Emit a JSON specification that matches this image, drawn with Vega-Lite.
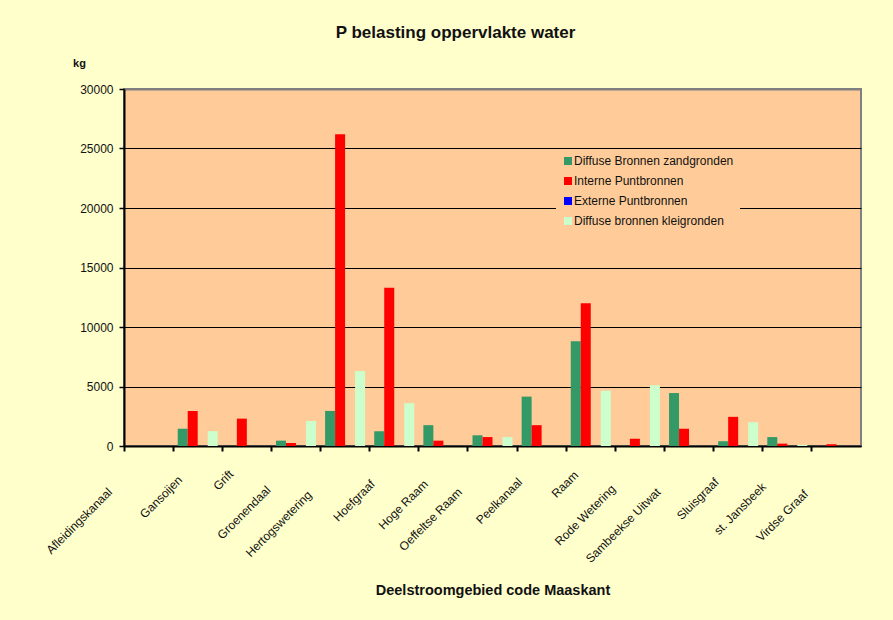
{
  "$schema": "https://vega.github.io/schema/vega-lite/v6.json",
  "width": 737,
  "height": 357,
  "autosize": {"type": "none"},
  "padding": {"left": 124, "top": 89, "right": 32, "bottom": 174},
  "background": "#FFFFCC",
  "title": {"text": "P belasting oppervlakte water", "font": "Liberation Sans", "fontSize": 17, "fontWeight": "bold", "color": "#111111", "anchor": "middle", "dx": -37, "offset": 15},
  "data": {"values": [
    {"gebied": "Gansoijen", "bron": "Diffuse Bronnen zandgronden", "kg": 1450},
    {"gebied": "Gansoijen", "bron": "Interne Puntbronnen", "kg": 2950},
    {"gebied": "Gansoijen", "bron": "Diffuse bronnen kleigronden", "kg": 1250},
    {"gebied": "Grift", "bron": "Interne Puntbronnen", "kg": 2300},
    {"gebied": "Groenendaal", "bron": "Diffuse Bronnen zandgronden", "kg": 450},
    {"gebied": "Groenendaal", "bron": "Interne Puntbronnen", "kg": 250},
    {"gebied": "Groenendaal", "bron": "Diffuse bronnen kleigronden", "kg": 2100},
    {"gebied": "Hertogswetering", "bron": "Diffuse Bronnen zandgronden", "kg": 2950},
    {"gebied": "Hertogswetering", "bron": "Interne Puntbronnen", "kg": 26200},
    {"gebied": "Hertogswetering", "bron": "Diffuse bronnen kleigronden", "kg": 6300},
    {"gebied": "Hoefgraaf", "bron": "Diffuse Bronnen zandgronden", "kg": 1250},
    {"gebied": "Hoefgraaf", "bron": "Interne Puntbronnen", "kg": 13300},
    {"gebied": "Hoefgraaf", "bron": "Diffuse bronnen kleigronden", "kg": 3600},
    {"gebied": "Hoge Raam", "bron": "Diffuse Bronnen zandgronden", "kg": 1750},
    {"gebied": "Hoge Raam", "bron": "Interne Puntbronnen", "kg": 450},
    {"gebied": "Oeffeltse Raam", "bron": "Diffuse Bronnen zandgronden", "kg": 900},
    {"gebied": "Oeffeltse Raam", "bron": "Interne Puntbronnen", "kg": 750},
    {"gebied": "Oeffeltse Raam", "bron": "Diffuse bronnen kleigronden", "kg": 750},
    {"gebied": "Peelkanaal", "bron": "Diffuse Bronnen zandgronden", "kg": 4150},
    {"gebied": "Peelkanaal", "bron": "Interne Puntbronnen", "kg": 1750},
    {"gebied": "Raam", "bron": "Diffuse Bronnen zandgronden", "kg": 8800},
    {"gebied": "Raam", "bron": "Interne Puntbronnen", "kg": 12000},
    {"gebied": "Raam", "bron": "Diffuse bronnen kleigronden", "kg": 4650},
    {"gebied": "Rode Wetering", "bron": "Interne Puntbronnen", "kg": 600},
    {"gebied": "Rode Wetering", "bron": "Diffuse bronnen kleigronden", "kg": 5100},
    {"gebied": "Sambeekse Uitwat", "bron": "Diffuse Bronnen zandgronden", "kg": 4450},
    {"gebied": "Sambeekse Uitwat", "bron": "Interne Puntbronnen", "kg": 1450},
    {"gebied": "Sluisgraaf", "bron": "Diffuse Bronnen zandgronden", "kg": 400},
    {"gebied": "Sluisgraaf", "bron": "Interne Puntbronnen", "kg": 2450},
    {"gebied": "Sluisgraaf", "bron": "Diffuse bronnen kleigronden", "kg": 2000},
    {"gebied": "st. Jansbeek", "bron": "Diffuse Bronnen zandgronden", "kg": 750},
    {"gebied": "st. Jansbeek", "bron": "Interne Puntbronnen", "kg": 200},
    {"gebied": "st. Jansbeek", "bron": "Diffuse bronnen kleigronden", "kg": 100},
    {"gebied": "Virdse Graaf", "bron": "Interne Puntbronnen", "kg": 150}
  ]},
  "mark": {"type": "bar"},
  "encoding": {
    "x": {
      "field": "gebied", "type": "nominal",
      "scale": {"domain": ["Afleidingskanaal", "Gansoijen", "Grift", "Groenendaal", "Hertogswetering", "Hoefgraaf", "Hoge Raam", "Oeffeltse Raam", "Peelkanaal", "Raam", "Rode Wetering", "Sambeekse Uitwat", "Sluisgraaf", "st. Jansbeek", "Virdse Graaf"], "paddingInner": 0, "paddingOuter": 0},
      "title": "Deelstroomgebied code Maaskant",
      "axis": {
        "bandPosition": 0,
        "domainColor": "#000000", "domainWidth": 2,
        "tickColor": "#000000", "tickWidth": 2, "tickSize": 5,
        "labelAngle": -45, "labelAlign": "right", "labelBaseline": "top",
        "labelFont": "Liberation Sans", "labelFontSize": 12, "labelColor": "#111111",
        "labelOffset": {"condition": [
          {"test": "datum.value === 'Afleidingskanaal'", "value": -42},
          {"test": "datum.value === 'Gansoijen'", "value": -21},
          {"test": "datum.value === 'Grift'", "value": -19},
          {"test": "datum.value === 'Groenendaal'", "value": -31},
          {"test": "datum.value === 'Hertogswetering'", "value": -39},
          {"test": "datum.value === 'Hoefgraaf'", "value": -25},
          {"test": "datum.value === 'Hoge Raam'", "value": -21},
          {"test": "datum.value === 'Oeffeltse Raam'", "value": -36},
          {"test": "datum.value === 'Peelkanaal'", "value": -25},
          {"test": "datum.value === 'Raam'", "value": -18},
          {"test": "datum.value === 'Rode Wetering'", "value": -30},
          {"test": "datum.value === 'Sambeekse Uitwat'", "value": -34},
          {"test": "datum.value === 'Sluisgraaf'", "value": -25},
          {"test": "datum.value === 'st. Jansbeek'", "value": -27}
        ], "value": -34},
        "labelPadding": {"condition": [
          {"test": "datum.value === 'Afleidingskanaal'", "value": 35},
          {"test": "datum.value === 'Gansoijen'", "value": 23},
          {"test": "datum.value === 'Grift'", "value": 17},
          {"test": "datum.value === 'Groenendaal'", "value": 33},
          {"test": "datum.value === 'Hertogswetering'", "value": 38},
          {"test": "datum.value === 'Hoefgraaf'", "value": 27},
          {"test": "datum.value === 'Hoge Raam'", "value": 27},
          {"test": "datum.value === 'Oeffeltse Raam'", "value": 35},
          {"test": "datum.value === 'Peelkanaal'", "value": 25},
          {"test": "datum.value === 'Raam'", "value": 18},
          {"test": "datum.value === 'Rode Wetering'", "value": 32},
          {"test": "datum.value === 'Sambeekse Uitwat'", "value": 35},
          {"test": "datum.value === 'Sluisgraaf'", "value": 25},
          {"test": "datum.value === 'st. Jansbeek'", "value": 30}
        ], "value": 37},
        "titleFont": "Liberation Sans", "titleFontSize": 14.5, "titleFontWeight": "bold", "titleColor": "#111111",
        "titleY": 144, "titleBaseline": "middle"
      }
    },
    "xOffset": {
      "field": "bron", "type": "nominal",
      "scale": {"domain": ["Diffuse Bronnen zandgronden", "Interne Puntbronnen", "Externe Puntbronnen", "Diffuse bronnen kleigronden"], "paddingInner": 0, "paddingOuter": 0.4565}
    },
    "y": {
      "field": "kg", "type": "quantitative",
      "scale": {"domain": [0, 30000], "nice": false},
      "title": "kg",
      "axis": {
        "values": [0, 5000, 10000, 15000, 20000, 25000, 30000],
        "format": "d",
        "grid": true,
        "gridColor": {"condition": {"test": "datum.value === 30000", "value": "#808080"}, "value": "#000000"},
        "gridWidth": {"condition": {"test": "datum.value === 30000", "value": 2}, "value": 1},
        "domainColor": "#000000", "domainWidth": 2,
        "tickColor": "#000000", "tickWidth": 1.5, "tickSize": 5,
        "labelFont": "Liberation Sans", "labelFontSize": 12, "labelColor": "#111111", "labelPadding": 6,
        "titleAngle": 0, "titleX": -45, "titleY": -26, "titleAlign": "center", "titleBaseline": "middle",
        "titleFont": "Liberation Sans", "titleFontSize": 11, "titleFontWeight": "bold", "titleColor": "#111111"
      }
    },
    "color": {
      "field": "bron", "type": "nominal",
      "scale": {"domain": ["Diffuse Bronnen zandgronden", "Interne Puntbronnen", "Externe Puntbronnen", "Diffuse bronnen kleigronden"], "range": ["#339966", "#FF0000", "#0000FF", "#CCFFCC"]},
      "legend": {
        "title": null, "orient": "none", "legendX": 432, "legendY": 60,
        "fillColor": "#FFCC99", "padding": 6,
        "symbolType": "square", "symbolSize": 64, "symbolStrokeWidth": 0,
        "labelFont": "Liberation Sans", "labelFontSize": 12, "labelColor": "#111111", "labelOffset": 0,
        "rowPadding": 8
      }
    }
  },
  "config": {"view": {"fill": "#FFCC99", "stroke": "#808080", "strokeWidth": 2}}
}
